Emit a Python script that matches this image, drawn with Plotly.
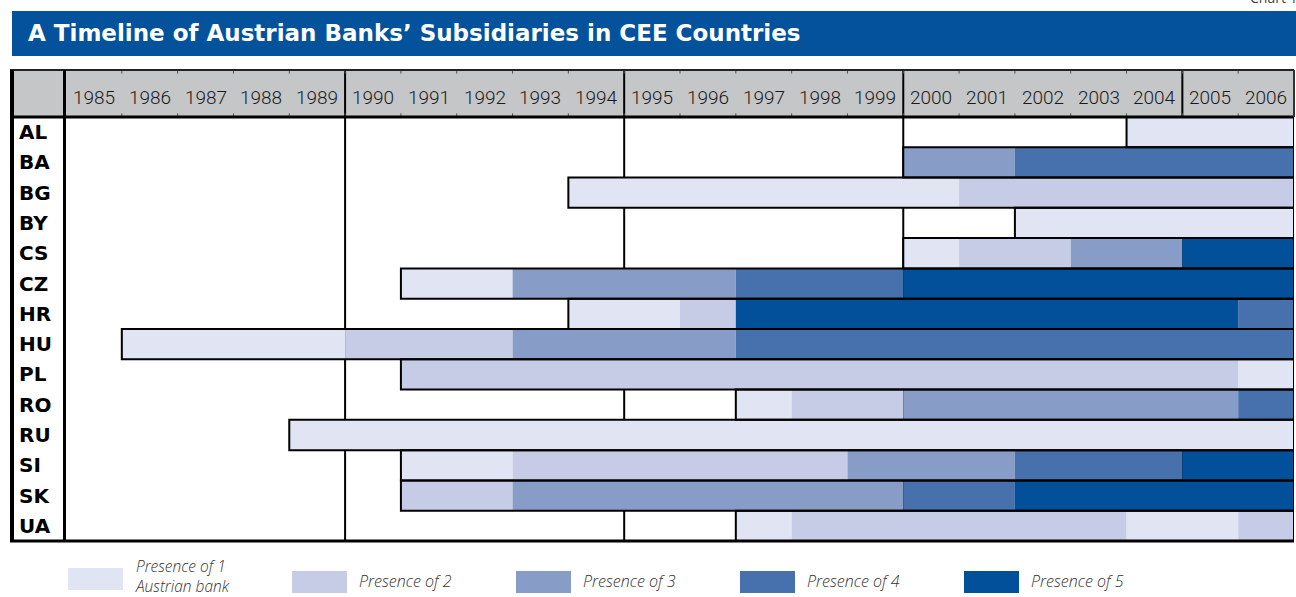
import plotly.graph_objects as go

# ---------------- data ----------------
countries = ["AL", "BA", "BG", "BY", "CS", "CZ", "HR", "HU", "PL", "RO", "RU", "SI", "SK", "UA"]
# years in which the number of Austrian banks present changes, per country
change_years = [
    [2004],
    [2000, 2002],
    [1994, 2001],
    [2002],
    [2000, 2001, 2003, 2005],
    [1991, 1993, 1997, 2000],
    [1994, 1996, 1997, 2006],
    [1986, 1990, 1993, 1997],
    [1991, 2006],
    [1997, 1998, 2000, 2006],
    [1989],
    [1991, 1993, 1999, 2002, 2005],
    [1991, 1993, 2000, 2002],
    [1997, 1998, 2004, 2006],
]
# number of banks present from each change year on
bank_counts = [
    [1],
    [3, 4],
    [1, 2],
    [1],
    [1, 2, 3, 5],
    [1, 3, 4, 5],
    [1, 2, 5, 4],
    [1, 2, 3, 4],
    [2, 1],
    [1, 2, 3, 4],
    [1],
    [1, 2, 3, 4, 5],
    [2, 3, 4, 5],
    [1, 2, 1, 2],
]
years = list(range(1985, 2007))
timeline_end = 2007
level_colors = ["#E1E4F2", "#C6CCE6", "#889CC8", "#4771AD", "#02509A"]
level_labels = ["Presence of 1<br>Austrian bank", "Presence of 2", "Presence of 3",
                "Presence of 4", "Presence of 5"]
title_text = "A Timeline of Austrian Banks’ Subsidiaries in CEE Countries"

# ---------------- geometry helpers (pixel -> paper) ----------------
W, H = 1296, 597
L, R, T, B = 66, 1294, 70, 541


def px(x):
    return (x - L) / (R - L)


def py(y):
    return (B - y) / (B - T)


HEADER_TOP = -2.05
ROW_BOTTOM = len(countries) - 0.5

fig = go.Figure()

# colored segments, one trace per level
for lvl in range(1, 6):
    ys, bases, lens = [], [], []
    for i, (cy, cnt) in enumerate(zip(change_years, bank_counts)):
        for k, (y0, c) in enumerate(zip(cy, cnt)):
            y1 = cy[k + 1] if k + 1 < len(cy) else timeline_end
            if c == lvl:
                ys.append(i)
                bases.append(y0)
                lens.append(y1 - y0)
    fig.add_trace(go.Bar(
        y=ys, x=lens, base=bases, orientation="h", width=1.0,
        marker=dict(color=level_colors[lvl - 1], line=dict(width=0)),
        name=level_labels[lvl - 1].replace("<br>", " "), showlegend=False,
        hoverinfo="skip"))

# outline of each country's whole presence period
fig.add_trace(go.Bar(
    y=list(range(len(countries))),
    base=[cy[0] for cy in change_years],
    x=[timeline_end - cy[0] for cy in change_years],
    orientation="h", width=1.0,
    marker=dict(color="rgba(0,0,0,0)", line=dict(color="#000000", width=2)),
    showlegend=False, hoverinfo="skip"))

shapes = []
# title bar
shapes.append(dict(type="rect", xref="paper", yref="paper", x0=px(12), x1=px(1296),
                   y0=py(56), y1=py(11), fillcolor="#03529B", line=dict(width=0)))
# header background
shapes.append(dict(type="rect", xref="paper", yref="y", x0=px(12), x1=1,
                   y0=HEADER_TOP, y1=-0.5, fillcolor="#C5C6C8", line=dict(width=0),
                   layer="below"))
# five-year separators
for yr in [1990, 1995, 2000, 2005]:
    shapes.append(dict(type="line", xref="x", yref="y", x0=yr, x1=yr,
                       y0=HEADER_TOP, y1=ROW_BOTTOM, line=dict(color="#000000", width=2),
                       layer="below"))
# thin year ticks on header edges
for yr in years[1:]:
    for (a, b) in [(HEADER_TOP, HEADER_TOP + 0.12), (-0.62, -0.5)]:
        shapes.append(dict(type="line", xref="x", yref="y", x0=yr, x1=yr, y0=a, y1=b,
                           line=dict(color="#555555", width=1), layer="below"))
# frame lines
shapes.append(dict(type="line", xref="paper", yref="paper", x0=px(10), x1=1,
                   y0=py(70), y1=py(70), line=dict(color="#222222", width=2)))
shapes.append(dict(type="line", xref="paper", yref="y", x0=px(10), x1=1,
                   y0=-0.5, y1=-0.5, line=dict(color="#000000", width=3)))
shapes.append(dict(type="line", xref="paper", yref="paper", x0=px(12), x1=px(12),
                   y0=py(542), y1=py(70), line=dict(color="#000000", width=4)))
shapes.append(dict(type="line", xref="paper", yref="paper", x0=px(64.5), x1=px(64.5),
                   y0=py(541), y1=py(70), line=dict(color="#000000", width=3)))
shapes.append(dict(type="line", xref="paper", yref="paper", x0=px(10), x1=1,
                   y0=py(541), y1=py(541), line=dict(color="#000000", width=3)))
shapes.append(dict(type="line", xref="paper", yref="y", x0=1, x1=1,
                   y0=HEADER_TOP, y1=-0.5, line=dict(color="#333333", width=2)))

# legend swatches
leg_x = [68, 292, 516, 740, 964]
for k in range(5):
    top = 568 if k == 0 else 571
    shapes.append(dict(type="rect", xref="paper", yref="paper",
                       x0=px(leg_x[k]), x1=px(leg_x[k] + 55),
                       y0=py(top + 22), y1=py(top),
                       fillcolor=level_colors[k], line=dict(width=0)))

annotations = []
# title
annotations.append(dict(xref="paper", yref="paper", x=px(26), y=py(33.5),
                        xanchor="left", yanchor="middle", showarrow=False,
                        text="<b>" + title_text + "</b>",
                        font=dict(family="DejaVu Sans", size=23, color="#FFFFFF")))
# Chart 1 label (cut at the top edge, as in the source)
annotations.append(dict(xref="paper", yref="paper", x=px(1300), y=py(9),
                        xanchor="right", yanchor="bottom", showarrow=False,
                        text="Chart 1", font=dict(family="Open Sans", size=14, color="#444444")))
# year labels
for yr in years:
    annotations.append(dict(xref="x", yref="y", x=yr + 0.5, y=-1.15, showarrow=False,
                            xanchor="center", yanchor="middle", text=str(yr),
                            font=dict(family="Roboto", size=19, color="#1A1A1A",
                                      weight=300)))
# country labels
for i, c in enumerate(countries):
    annotations.append(dict(xref="paper", yref="y", x=px(17), y=i, showarrow=False,
                            xanchor="left", yanchor="middle", text="<b>" + c + "</b>",
                            font=dict(family="DejaVu Sans", size=20, color="#000000")))
# legend texts
for k in range(5):
    annotations.append(dict(xref="paper", yref="paper", x=px(leg_x[k] + 66),
                            y=py(576 if k == 0 else 581), showarrow=False,
                            xanchor="left", yanchor="middle", align="left",
                            borderpad=0,
                            text="<i>" + level_labels[k] + "</i>",
                            font=dict(family="Open Sans", size=15.5 if k == 0 else 16,
                                      color="#333333", weight=300)))

fig.update_layout(
    width=W, height=H,
    margin=dict(l=L, r=W - R, t=T, b=H - B, pad=0),
    paper_bgcolor="#FFFFFF", plot_bgcolor="#FFFFFF",
    barmode="overlay", showlegend=False,
    xaxis=dict(range=[1985, timeline_end], showgrid=False, zeroline=False,
               showticklabels=False, ticks="", fixedrange=True),
    yaxis=dict(range=[ROW_BOTTOM, HEADER_TOP], showgrid=False, zeroline=False,
               showticklabels=False, ticks="", fixedrange=True),
    shapes=shapes, annotations=annotations,
)

fig.write_html("out.html", config={"displayModeBar": False},
               post_script="document.body.style.margin='0';")
